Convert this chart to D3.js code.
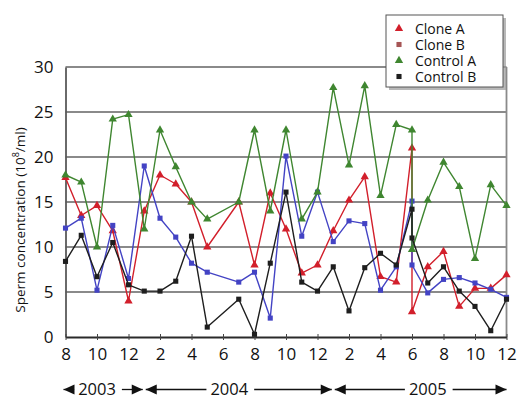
<!DOCTYPE html>
<html>
<head>
<meta charset="utf-8">
<script src="https://cdn.jsdelivr.net/npm/d3@7"></script>
<style>
  body { margin: 0; background: #fff; }
  svg { display: block; font-family: "Open Sans", sans-serif; }
</style>
</head>
<body>
<svg id="chart" width="524" height="399"></svg>
<script>
// Sampling month, counted from August 2003 (0) to December 2005 (28).
// June 2005 (22) was sampled twice.
const sampleMonths = [0, 1, 2, 3, 4, 5, 6, 7, 8, 9, 11, 12, 13, 14, 15, 16, 17, 18, 19, 20, 21, 22, 22, 23, 24, 25, 26, 27, 28];

// Sperm concentration, 10^8 per ml
const cloneA   = [17.7, 13.5, 14.6, 11.8, 4.0, 14.0, 18.0, 17.0, 15.0, 10.0, 15.0, 8.0, 16.0, 12.0, 7.1, 8.0, 11.8, 15.2, 17.8, 6.7, 6.1, 21.0, 2.8, 7.8, 9.5, 3.4, 5.4, 5.4, 6.9];
const cloneB   = [12.1, 13.2, 5.2, 12.4, 6.5, 19.0, 13.2, 11.1, 8.2, 7.2, 6.1, 7.2, 2.1, 20.1, 11.2, 16.1, 10.6, 12.9, 12.6, 5.2, 7.8, 15.1, 8.0, 4.9, 6.4, 6.6, 6.0, 5.3, 4.4];
const controlA = [18.0, 17.2, 10.0, 24.2, 24.7, 12.0, 23.0, 18.9, 15.0, 13.1, 15.0, 23.0, 14.0, 23.0, 13.1, 16.1, 27.7, 19.1, 27.9, 15.7, 23.6, 23.0, 9.7, 15.2, 19.4, 16.7, 8.7, 16.9, 14.6];
const controlB = [8.4, 11.3, 6.7, 10.5, 5.8, 5.1, 5.1, 6.2, 11.2, 1.1, 4.2, 0.3, 8.2, 16.1, 6.1, 5.1, 7.8, 2.9, 7.7, 9.3, 8.0, 14.2, 11.0, 6.0, 7.8, 5.1, 3.4, 0.7, 4.2];

const seriesNames = ["Clone A", "Clone B", "Control A", "Control B"];

// Axis ticks
const xTickMonths = [0, 2, 4, 6, 8, 10, 12, 14, 16, 18, 20, 22, 24, 26, 28];
const xTickLabels = ["8", "10", "12", "2", "4", "6", "8", "10", "12", "2", "4", "6", "8", "10", "12"];
const yTicks = [0, 5, 10, 15, 20, 25, 30];

// Year spans under the month axis (start month, end month, label month)
const yearLabels = ["2003", "2004", "2005"];
const yearStarts = [0, 5, 17];
const yearEnds   = [5, 17, 28];
const yearLabelAt = [2, 10.4, 23];

const styles = [
  { color: "#d21f2b", shape: d3.symbolTriangle, size: 30, legendColor: "#d21f2b" },
  { color: "#4343c4", shape: d3.symbolSquare,   size: 26, legendColor: "#a65555" },
  { color: "#3f8630", shape: d3.symbolTriangle, size: 30, legendColor: "#3f8630" },
  { color: "#1e1e1e", shape: d3.symbolSquare,   size: 26, legendColor: "#1e1e1e" }
];

const seriesValues = [cloneA, cloneB, controlA, controlB];
const series = seriesNames.map((name, i) => ({
  name,
  style: styles[i],
  points: sampleMonths.map((m, j) => ({ m, v: seriesValues[i][j] }))
}));

const svg = d3.select("#chart");
const plotLeft = 65.5, plotRight = 506.5, plotTop = 67, plotBottom = 337;

const x = d3.scaleLinear().domain([0, 28]).range([plotLeft, plotRight]);
const y = d3.scaleLinear().domain([0, 30]).range([plotBottom, plotTop]);

// Horizontal gridlines
svg.append("g")
  .selectAll("line")
  .data(yTicks.filter(t => t > 0))
  .join("line")
  .attr("x1", plotLeft).attr("x2", plotRight)
  .attr("y1", d => y(d)).attr("y2", d => y(d))
  .attr("stroke", "#8a8a8a")
  .attr("stroke-width", 1.8);

// Right border
svg.append("line")
  .attr("x1", plotRight).attr("x2", plotRight)
  .attr("y1", plotTop).attr("y2", plotBottom)
  .attr("stroke", "#8a8a8a").attr("stroke-width", 1.8);

// Y axis
const yAxis = svg.append("g")
  .attr("transform", `translate(${plotLeft},0)`)
  .call(d3.axisLeft(y).tickValues(yTicks).tickSize(0).tickPadding(12));
yAxis.select(".domain").attr("stroke", "#5a5a5a").attr("stroke-width", 1.8);
yAxis.selectAll("text")
  .attr("font-family", "Open Sans, sans-serif")
  .attr("font-size", 17)
  .attr("fill", "#111");

// X axis
const xAxis = svg.append("g")
  .attr("transform", `translate(0,${plotBottom})`)
  .call(d3.axisBottom(x)
    .tickValues(xTickMonths)
    .tickFormat((d, i) => xTickLabels[i])
    .tickSizeInner(3).tickSizeOuter(0).tickPadding(8));
xAxis.select(".domain").attr("stroke", "#2a2a2a").attr("stroke-width", 1.8);
xAxis.selectAll(".tick line").attr("stroke", "#444").attr("y1", -3).attr("y2", 3);
xAxis.selectAll("text")
  .attr("font-family", "Open Sans, sans-serif")
  .attr("font-size", 17)
  .attr("fill", "#111");

// Y axis title
const yTitle = svg.append("text")
  .attr("transform", `translate(25,${(plotTop + plotBottom) / 2 + 18}) rotate(-90)`)
  .attr("text-anchor", "middle")
  .attr("font-size", 13.5)
  .attr("fill", "#111");
yTitle.append("tspan").text("Sperm concentration (10");
yTitle.append("tspan").attr("font-size", 9).attr("dy", -6).text("8");
yTitle.append("tspan").attr("dy", 6).text("/ml)");

// Series lines and markers
const line = d3.line().x(d => x(d.m)).y(d => y(d.v));
series.forEach(s => {
  const g = svg.append("g");
  g.append("path")
    .datum(s.points)
    .attr("d", line)
    .attr("fill", "none")
    .attr("stroke", s.style.color)
    .attr("stroke-width", 1.4)
    .attr("stroke-linejoin", "round");
  g.selectAll("path.mark")
    .data(s.points)
    .join("path")
    .attr("class", "mark")
    .attr("transform", d => `translate(${x(d.m)},${y(d.v)})`)
    .attr("d", d3.symbol().type(s.style.shape).size(s.style.size))
    .attr("fill", s.style.color);
});

// Year spans with arrows
const yearY = 389.5;
const yearBaseline = 394.5;
const arrow = (tipX, dir) => {
  const len = 11, half = 5;
  return `M${tipX},${yearY}L${tipX - dir * len},${yearY - half}L${tipX - dir * len},${yearY + half}Z`;
};
yearLabels.forEach((label, i) => {
  const x0 = x(yearStarts[i]) + (i === 0 ? -2 : 1.5);
  const x1 = x(yearEnds[i]) - (i === yearLabels.length - 1 ? 0 : 1.5);
  const t = svg.append("text")
    .attr("x", x(yearLabelAt[i]))
    .attr("y", yearBaseline)
    .attr("text-anchor", "middle")
    .attr("font-size", 16.5)
    .attr("fill", "#111")
    .text(label);
  const w = t.node().getComputedTextLength();
  const tl = x(yearLabelAt[i]) - w / 2 - 4;
  const tr = x(yearLabelAt[i]) + w / 2 + 6;
  svg.append("line").attr("x1", x0).attr("x2", tl).attr("y1", yearY).attr("y2", yearY)
    .attr("stroke", "#111").attr("stroke-width", 1.3);
  svg.append("line").attr("x1", tr).attr("x2", x1).attr("y1", yearY).attr("y2", yearY)
    .attr("stroke", "#111").attr("stroke-width", 1.3);
  svg.append("path").attr("d", arrow(x0, -1)).attr("fill", "#111");
  svg.append("path").attr("d", arrow(x1, 1)).attr("fill", "#111");
});

// Legend
const legend = svg.append("g").attr("transform", "translate(386,15)");
legend.append("rect")
  .attr("x", 3).attr("y", 3).attr("width", 117).attr("height", 72)
  .attr("fill", "#9a9a9a").attr("opacity", 0.7);
legend.append("rect")
  .attr("x", 0).attr("y", 0).attr("width", 117).attr("height", 72)
  .attr("fill", "#fff").attr("stroke", "#555").attr("stroke-width", 1);
series.forEach((s, i) => {
  const row = legend.append("g").attr("transform", `translate(0,${13.5 + i * 16})`);
  row.append("path")
    .attr("transform", "translate(13,0)")
    .attr("d", d3.symbol().type(s.style.shape).size(s.style.size))
    .attr("fill", s.style.legendColor);
  row.append("text")
    .attr("x", 29).attr("y", 5)
    .attr("font-size", 14)
    .attr("fill", "#111")
    .text(s.name);
});
</script>
</body>
</html>
